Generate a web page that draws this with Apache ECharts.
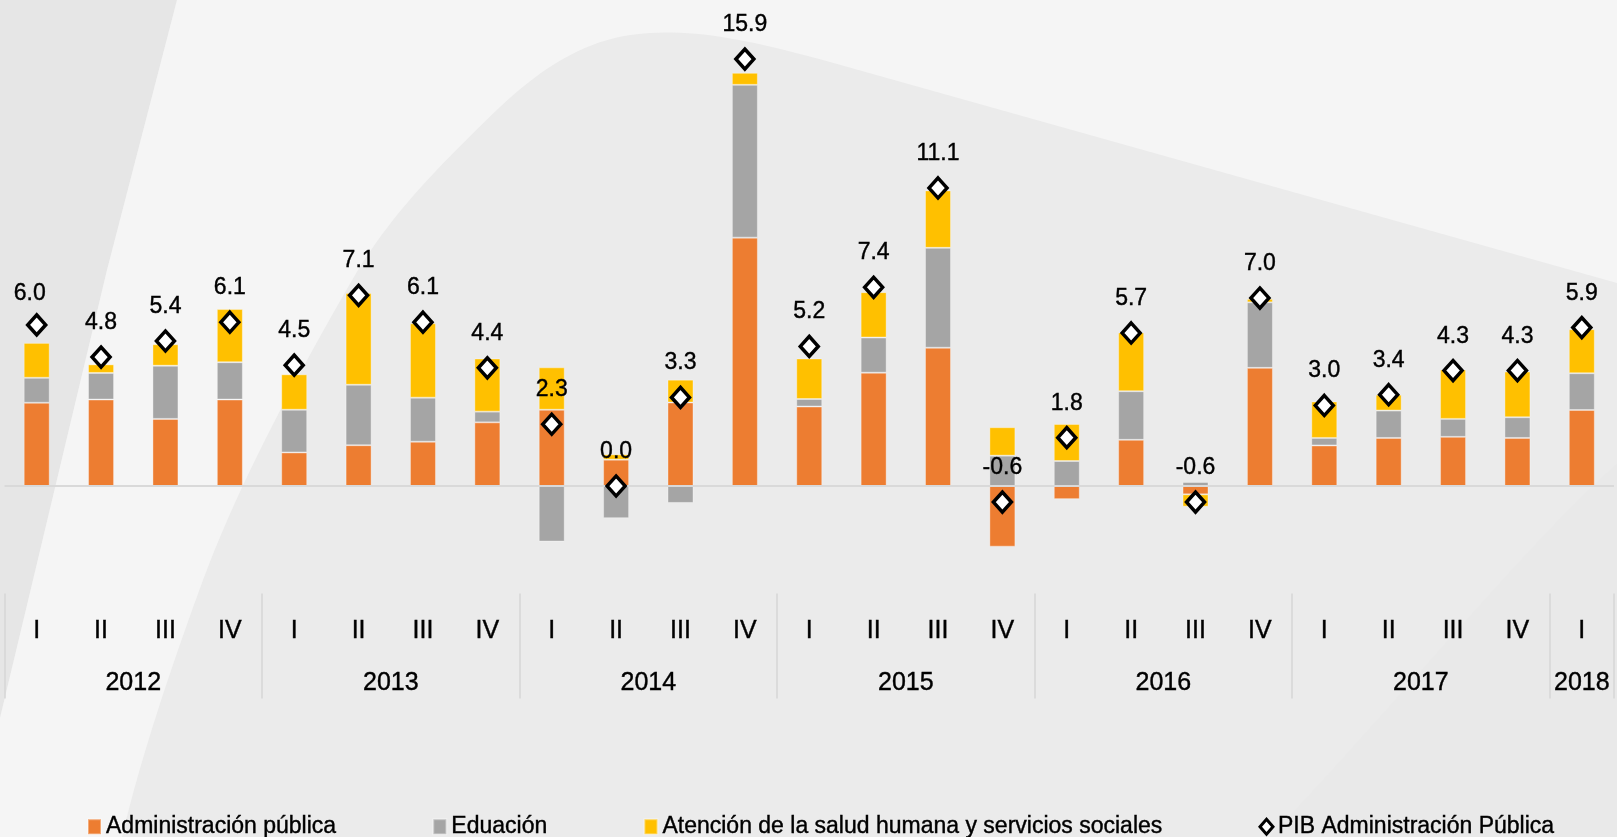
<!DOCTYPE html>
<html>
<head>
<meta charset="utf-8">
<script src="https://cdn.jsdelivr.net/npm/echarts@6/dist/echarts.min.js"></script>
<style>
  html, body { margin: 0; padding: 0; background: #ebebeb; }
  #chart { width: 1617px; height: 837px; }
</style>
</head>
<body>
<div id="chart"></div>
<script>
const quarters = ['I', 'II', 'III', 'IV', 'I', 'II', 'III', 'IV', 'I', 'II', 'III', 'IV',
  'I', 'II', 'III', 'IV', 'I', 'II', 'III', 'IV', 'I', 'II', 'III', 'IV', 'I'];
const years = ['2012', '2013', '2014', '2015', '2016', '2017', '2018'];
const quartersPerYear = [4, 4, 4, 4, 4, 4, 1];

const adminPublica = [3.1, 3.22, 2.5, 3.22, 1.25, 1.52, 1.65, 2.37,
  2.84, 0.98, 3.11, 9.25, 2.96, 4.22, 5.15, -2.26,
  -0.49, 1.72, -0.31, 4.4, 1.51, 1.79, 1.83, 1.79, 2.83];
const educacion = [0.93, 0.99, 1.98, 1.39, 1.59, 2.25, 1.64, 0.4,
  -2.07, -1.2, -0.63, 5.69, 0.28, 1.31, 3.72, 1.13,
  0.93, 1.81, 0.15, 2.44, 0.28, 1.02, 0.67, 0.77, 1.37];
const saludHumana = [1.3, 0.32, 0.8, 1.98, 1.32, 3.42, 2.77, 1.98,
  1.58, 0.2, 0.85, 0.45, 1.51, 1.69, 2.14, 1.06,
  1.38, 2.19, -0.46, 0.13, 1.36, 0.59, 1.84, 1.7, 1.64];
const pibAdmin = [6.0, 4.8, 5.4, 6.1, 4.5, 7.1, 6.1, 4.4,
  2.3, 0.0, 3.3, 15.9, 5.2, 7.4, 11.1, -0.6,
  1.8, 5.7, -0.6, 7.0, 3.0, 3.4, 4.3, 4.3, 5.9];

const FONT = "'Liberation Sans', Arial, sans-serif";

// indices where a year starts, and a half-step slot list for centering the year names
const yearStarts = [];
const yearSlots = new Array(2 * quarters.length + 1).fill('');
let start = 0;
years.forEach((y, i) => {
  yearStarts.push(start);
  yearSlots[2 * start + quartersPerYear[i]] = y;
  start += quartersPerYear[i];
});

const pibData = pibAdmin.map((v, i) => i === 0 ? { value: v, label: { offset: [-7, 3] } } : v);

// background decoration: flatten a few bezier segments into polygon points
function bez(p0, p1, p2, p3) {
  const pts = [];
  for (let k = 1; k <= 20; k++) {
    const t = k / 20, u = 1 - t;
    pts.push([
      u * u * u * p0[0] + 3 * u * u * t * p1[0] + 3 * u * t * t * p2[0] + t * t * t * p3[0],
      u * u * u * p0[1] + 3 * u * u * t * p1[1] + 3 * u * t * t * p2[1] + t * t * t * p3[1]
    ]);
  }
  return pts;
}
const lightArea = [[177, 0], [1617, 0], [1617, 283], [830, 62]]
  .concat(bez([830, 62], [750, 40], [700, 30], [650, 33]))
  .concat(bez([650, 33], [590, 36], [545, 65], [500, 107]))
  .concat(bez([500, 107], [440, 165], [395, 210], [358, 270]))
  .concat(bez([358, 270], [300, 370], [240, 480], [203, 580]))
  .concat(bez([203, 580], [170, 670], [140, 760], [122, 837]))
  .concat([[0, 837], [0, 718], [33, 580], [107, 270]]);
const darkLeft = [[0, 0], [177, 0], [107, 270], [33, 580], [0, 718]];
const rightArea = [[1617, 464]].concat(bez([1617, 464], [1530, 540], [1400, 700], [1270, 837])).concat([[1617, 837]]);

const chart = echarts.init(document.getElementById('chart'));

const barStyle = color => ({ color: color, borderColor: 'rgba(255,255,255,0.35)', borderWidth: 1 });
const textBold = { textBorderColor: '#000', textBorderWidth: 0.4 };

chart.setOption({
  animation: false,
  backgroundColor: '#ebebeb',
  graphic: [
    { type: 'polygon', silent: true, z: -10, shape: { points: darkLeft }, style: { fill: '#e6e6e6' } },
    { type: 'polygon', silent: true, z: -10, shape: { points: lightArea }, style: { fill: '#f5f5f5' } },
    { type: 'polygon', silent: true, z: -10, shape: { points: rightArea }, style: { fill: '#e9e9e9' } }
  ],
  legend: {
    left: 82,
    top: 810,
    itemWidth: 13,
    itemHeight: 15,
    itemGap: 96,
    textStyle: Object.assign({ color: '#000', fontSize: 23, fontFamily: FONT }, textBold),
    data: [
      { name: 'Administración pública', icon: 'rect' },
      { name: 'Eduación', icon: 'rect' },
      { name: 'Atención de la salud humana y servicios sociales', icon: 'rect' },
      { name: 'PIB Administración Pública', icon: 'diamond', itemStyle: { borderWidth: 3 } }
    ]
  },
  grid: { left: 4.5, top: 29.55, width: 1615, height: 563.85 },
  xAxis: [
    {
      type: 'category',
      data: quarters,
      position: 'bottom',
      axisLine: { show: false, onZero: false },
      axisTick: {
        show: true,
        interval: i => yearStarts.includes(i),
        length: 105,
        lineStyle: { color: '#d6d6d6', width: 1.5 }
      },
      axisLabel: Object.assign({ interval: 0, margin: 25, color: '#000', fontSize: 25, fontFamily: FONT }, textBold),
      splitLine: { show: false }
    },
    {
      type: 'category',
      data: yearSlots,
      boundaryGap: false,
      position: 'bottom',
      axisLine: { show: false, onZero: false },
      axisTick: { show: false },
      axisLabel: Object.assign({ interval: 0, margin: 77, color: '#000', fontSize: 25, fontFamily: FONT }, textBold),
      splitLine: { show: false }
    }
  ],
  yAxis: { type: 'value', min: -4, max: 17, show: false },
  series: [
    {
      name: 'Administración pública',
      type: 'bar',
      stack: 'total',
      barWidth: 26,
      itemStyle: barStyle('#ED7D31'),
      data: adminPublica,
      markLine: {
        silent: true,
        symbol: 'none',
        label: { show: false },
        lineStyle: { color: '#d9d9d9', width: 2, type: 'solid' },
        data: [{ yAxis: 0 }]
      }
    },
    {
      name: 'Eduación',
      type: 'bar',
      stack: 'total',
      itemStyle: barStyle('#A5A5A5'),
      data: educacion
    },
    {
      name: 'Atención de la salud humana y servicios sociales',
      type: 'bar',
      stack: 'total',
      itemStyle: barStyle('#FFC000'),
      data: saludHumana
    },
    {
      name: 'PIB Administración Pública',
      type: 'scatter',
      z: 5,
      symbol: 'diamond',
      symbolSize: [18, 20],
      itemStyle: { color: '#fff', borderColor: '#000', borderWidth: 3.5, opacity: 1 },
      label: Object.assign({
        show: true,
        position: 'top',
        distance: 11,
        color: '#000',
        fontSize: 23,
        fontFamily: FONT,
        formatter: p => Number(p.value).toFixed(1)
      }, textBold),
      data: pibData
    }
  ]
});
</script>
</body>
</html>
